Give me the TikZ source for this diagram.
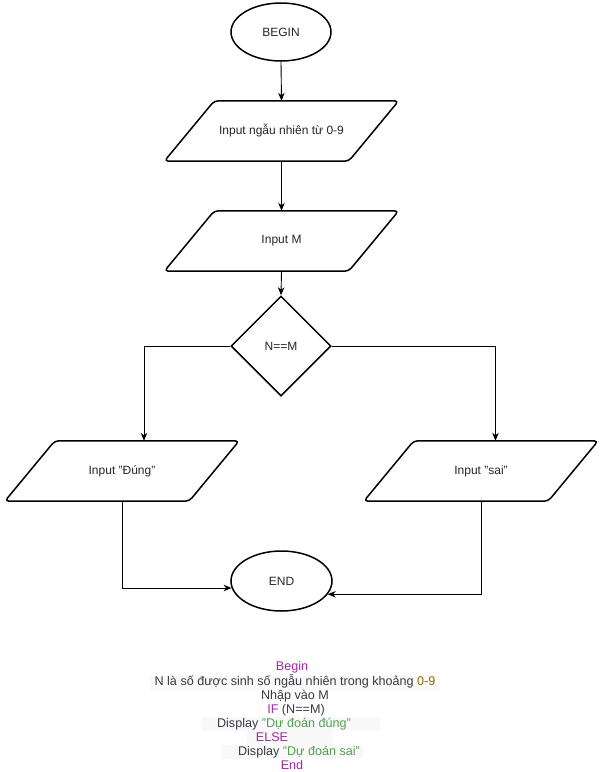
\documentclass[tikz,border=0pt]{standalone}
\usepackage{fontspec}
\setmainfont{Liberation Sans}
\usetikzlibrary{shapes.geometric,arrows.meta,calc}
\definecolor{kw}{HTML}{A626A4}
\definecolor{str}{HTML}{50A14F}
\definecolor{num}{HTML}{986801}
\definecolor{txt}{HTML}{383A42}
\definecolor{codebg}{HTML}{F9F9F9}
\newcommand\paradraw[1]{\draw[pline] ($(#1.north west)+(50,0)$) -- (#1.north east) -- ($(#1.south east)+(-50,0)$) -- (#1.south west) -- cycle;}
\begin{document}
\begin{tikzpicture}[x=1pt,y=-1pt,
  every node/.style={font=\fontsize{12}{14}\selectfont, text=black!85},
  term/.style={ellipse, draw, line width=1.5pt, minimum width=100pt, minimum height=58pt, inner sep=0pt},
  pbox/.style={minimum width=234pt, minimum height=60pt, inner sep=0pt},
  pline/.style={draw, line width=1.5pt, rounded corners=4pt, line join=round},
  cond/.style={diamond, draw, line width=1.5pt, minimum width=100pt, minimum height=100pt, inner sep=0pt},
  conn/.style={draw, line width=0.9pt, -{Stealth[length=8pt,width=6.5pt,inset=2.5pt]}},
  code/.style={font=\fontsize{12.6}{14}\selectfont, text=txt, inner sep=0pt, text height=9pt, text depth=3pt}
]
\useasboundingbox[fill=white] (0,0) rectangle (602,772);

% flowchart
\node[term] (b) at (281,32) {BEGIN};
\node[pbox] (p1) at (281.5,131) {Input ngẫu nhiên từ 0-9};
\paradraw{p1}
\node[pbox] (p2) at (281.5,241) {Input M};
\paradraw{p2}
\node[cond] (d) at (281,346) {N==M};
\node[pbox] (p3) at (122,471) {Input "Đúng"};
\paradraw{p3}
\node[pbox] (p4) at (481,471) {Input "sai"};
\paradraw{p4}
\node[term, minimum width=101pt, minimum height=60pt] (e) at (281.5,581) {END};

\draw[conn] (b.south) -- (p1.north);
\draw[conn] (p1.south) -- (p2.north);
\draw[conn] (p2.south) -- (d.north);
\draw[conn] (d.west) -| ([xshift=22pt]p3.north);
\draw[conn] (d.east) -| ([xshift=14.5pt]p4.north);
\draw[conn] (p3.south) |- (e.188);
\draw[conn] (p4.south) |- (e.344);

% code backgrounds
\fill[codebg] (150,676) rectangle (440,690);
\fill[codebg] (202,717) rectangle (380,731);
\fill[codebg] (247,731) rectangle (333,745);
\fill[codebg] (222,745) rectangle (363,759);

% pseudo code
\node[code] (c1) at (292,667) {\textcolor{kw}{Begin}};
\node[code] (c2) at (295,682) {N là số được sinh số ngẫu nhiên trong khoảng \textcolor{num}{0-9}};
\node[code] (c3) at (295,696) {Nhập vào M};
\node[code] (c4) at (296,710) {\textcolor{kw}{IF} (N==M)};
\node[code] (c5) at (284,724) {Display \textcolor{str}{"Dự đoán đúng"}};
\node[code] (c6) at (272,738) {\textcolor{kw}{ELSE}};
\node[code] (c7) at (299,752) {Display \textcolor{str}{"Dự đoán sai"}};
\node[code] (c8) at (292,766) {\textcolor{kw}{End}};
\end{tikzpicture}
\end{document}
